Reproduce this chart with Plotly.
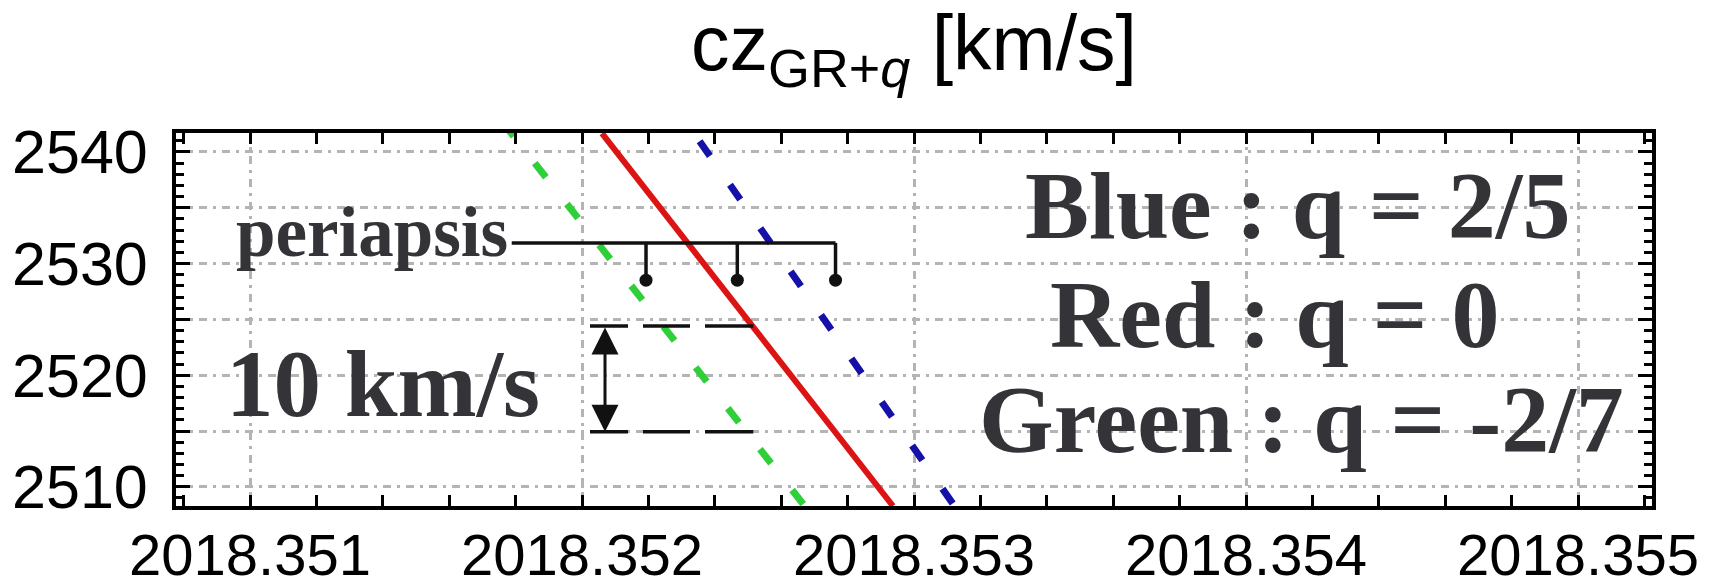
import plotly.graph_objects as go

# ---- data (time in decimal years, cz in km/s) ----
green_t = [2018.3517608, 2018.3526804]
green_cz = [2542.66, 2507.92]
red_t = [2018.3520602, 2018.3529367]
red_cz = [2541.67, 2508.28]
blue_t = [2018.3523542, 2018.3531217]
blue_cz = [2540.96, 2508.28]

# periapsis markers and bracket
peri_t = [2018.3521928, 2018.3524678, 2018.3527636]
peri_cz = [2528.51, 2528.51, 2528.51]
bracket_cz = 2531.85
bracket_t0 = 2018.3517883

# 10 km/s scale bar
scale_t = [2018.3520241, 2018.3525160]
scale_cz = [2524.40, 2514.93]
arrow_t = 2018.3520693

# axes
x_range = [2018.3507771, 2018.3552229]
y_range = [2508.28, 2541.70]
x_ticks = [2018.351, 2018.352, 2018.353, 2018.354, 2018.355]
x_tick_labels = ["2018.351", "2018.352", "2018.353", "2018.354", "2018.355"]
y_ticks = [2510, 2515, 2520, 2525, 2530, 2535, 2540]
y_tick_labels = ["2510", "", "2520", "", "2530", "", "2540"]

legend_lines = ["Blue : q = 2/5", "Red : q = 0", "Green : q = -2/7"]
legend_t = [2018.3541566, 2018.3540873, 2018.3541672]
legend_cz = [2535.17, 2525.42, 2516.02]

TEXT = "#333338"
SERIF = "Liberation Serif, Times New Roman, serif"
SANS = "Liberation Sans, Arial, sans-serif"

fig = go.Figure()

fig.add_trace(go.Scatter(x=green_t, y=green_cz, mode="lines",
                         line=dict(color="#2fcf3a", width=7, dash="18px,34px"),
                         hoverinfo="skip"))
fig.add_trace(go.Scatter(x=red_t, y=red_cz, mode="lines",
                         line=dict(color="#dc1414", width=6),
                         hoverinfo="skip"))
fig.add_trace(go.Scatter(x=blue_t, y=blue_cz, mode="lines",
                         line=dict(color="#1410a8", width=7, dash="18px,35px"),
                         hoverinfo="skip"))

# bracket
bx = [bracket_t0, peri_t[-1]]
by = [bracket_cz, bracket_cz]
for t, c in zip(peri_t, peri_cz):
    bx += [None, t, t]
    by += [None, bracket_cz, c]
fig.add_trace(go.Scatter(x=bx, y=by, mode="lines",
                         line=dict(color="#111111", width=3.5),
                         hoverinfo="skip"))
fig.add_trace(go.Scatter(x=peri_t, y=peri_cz, mode="markers",
                         marker=dict(color="#111111", size=13, symbol="circle"),
                         hoverinfo="skip"))

# scale bar dashed lines
for c in scale_cz:
    fig.add_trace(go.Scatter(x=scale_t, y=[c, c], mode="lines",
                             line=dict(color="#111111", width=3.5,
                                       dash="38px,15px,47px,15px,50px,15px"),
                             hoverinfo="skip"))

annotations = []
# double arrow
annotations.append(dict(x=arrow_t, y=scale_cz[1], ax=arrow_t, ay=scale_cz[0],
                        xref="x", yref="y", axref="x", ayref="y",
                        text="", showarrow=True, arrowhead=2, arrowside="end+start",
                        arrowwidth=3, arrowsize=1.8, arrowcolor="#111111",
                        standoff=0, startstandoff=0, startarrowhead=2,
                        startarrowsize=1.8))
annotations.append(dict(x=bracket_t0 - 0.000004, y=2532.86, xref="x", yref="y",
                        text="periapsis", showarrow=False, xanchor="right",
                        yanchor="middle",
                        font=dict(family=SERIF, size=71, color=TEXT, weight="bold")))
annotations.append(dict(x=2018.3514006, y=2519.2, xref="x", yref="y",
                        text="10 km/s", showarrow=False, xanchor="center",
                        yanchor="middle",
                        font=dict(family=SERIF, size=95, color=TEXT, weight="bold")))
for txt, t, c in zip(legend_lines, legend_t, legend_cz):
    annotations.append(dict(x=t, y=c, xref="x", yref="y", text=txt,
                            showarrow=False, xanchor="center", yanchor="middle",
                            font=dict(family=SERIF, size=96, color=TEXT,
                                      weight="bold")))

grid = dict(showgrid=True, gridcolor="#b4b4b4", gridwidth=2.5,
            griddash="8px,6px,3px,6px")

fig.update_layout(
    width=1730, height=587,
    margin=dict(l=176, r=78, t=133, b=81, autoexpand=False),
    paper_bgcolor="white", plot_bgcolor="white",
    showlegend=False,
    title=dict(text="cz<sub>GR+<i>q</i></sub> [km/s]",
               font=dict(family=SANS, size=77, color="black"),
               x=0.5, xref="paper", xanchor="center",
               y=0.972, yref="container", yanchor="top"),
    annotations=annotations,
    xaxis=dict(range=x_range, tickmode="array", tickvals=x_ticks,
               ticktext=x_tick_labels, ticks="inside", ticklen=11, tickwidth=3,
               tickcolor="black", showline=True, linecolor="black", linewidth=4,
               mirror="ticks", zeroline=False, automargin=False,
               tickfont=dict(family=SANS, size=58, color="black"),
               ticklabelstandoff=-5,
               minor=dict(dtick=0.0002, tick0=2018.351, ticks="inside", ticklen=11,
                          tickwidth=3, tickcolor="black", showgrid=False),
               **grid),
    yaxis=dict(range=y_range, tickmode="array", tickvals=y_ticks,
               ticktext=y_tick_labels, ticks="inside", ticklen=14, tickwidth=3,
               tickcolor="black", showline=True, linecolor="black", linewidth=4,
               mirror="ticks", zeroline=False, automargin=False,
               tickfont=dict(family=SANS, size=61, color="black"),
               ticklabelstandoff=12,
               minor=dict(dtick=1, tick0=2510, ticks="inside", ticklen=8,
                          tickwidth=3, tickcolor="black", showgrid=False),
               **grid),
)

fig.write_html(
    "out.html",
    config={"displayModeBar": False},
    post_script="document.body.style.margin='0';document.body.style.overflow='hidden';",
)
